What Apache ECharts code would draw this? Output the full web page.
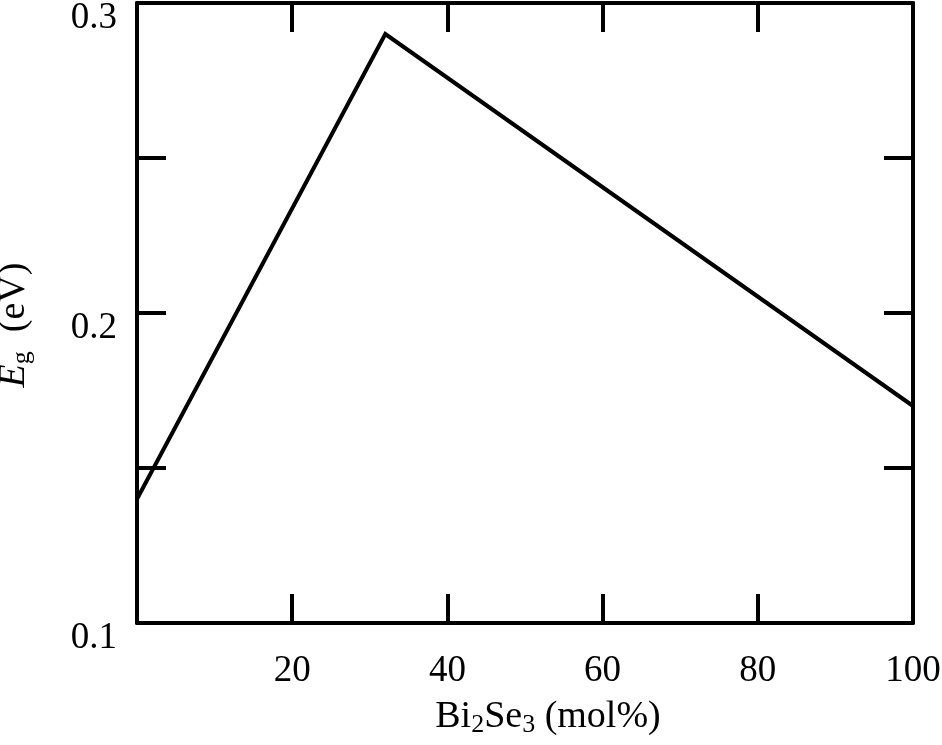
<!DOCTYPE html>
<html>
<head>
<meta charset="utf-8">
<script src="https://cdn.jsdelivr.net/npm/echarts@6/dist/echarts.min.js"></script>
<style>
html,body{margin:0;padding:0;background:#fff;}
#chart{width:942px;height:745px;}
</style>
</head>
<body>
<div id="chart"></div>
<script>
// Data
const compositions = [0, 32, 100];          // Bi2Se3 (mol%)
const bandGap = [0.14, 0.29, 0.17];         // Eg (eV)
const xTickValues = [20, 40, 60, 80, 100];
const yTickLabels = ['0.1', '0.2', '0.3'];

const FONT = 'Liberation Serif';
const seriesData = compositions.map((c, i) => [c, bandGap[i]]);

const chart = echarts.init(document.getElementById('chart'), null, {renderer: 'canvas'});

const axisLine = {show: true, onZero: false, lineStyle: {color: '#000', width: 4}};
const axisTick = {show: true, inside: true, length: 29, lineStyle: {color: '#000', width: 4}};

chart.setOption({
  animation: false,
  backgroundColor: '#fff',
  grid: {left: 137, right: 29, top: 3, bottom: 122, containLabel: false, outerBoundsMode: 'none'},
  xAxis: [
    {
      type: 'value', position: 'bottom', min: 0, max: 100, interval: 20,
      axisLine, axisTick, splitLine: {show: false},
      axisLabel: {
        show: true, margin: 30, color: '#000', fontFamily: FONT, fontSize: 37,
        showMinLabel: false,
        formatter: v => xTickValues.indexOf(v) >= 0 ? String(v) : ''
      },
      name: '{n|Bi}{s|2}{n|Se}{s|3}{n| (mol%)}',
      nameLocation: 'middle', nameGap: 73,
      nameTextStyle: {
        padding: [0, 0, 0, 46],
        rich: {
          n: {fontFamily: FONT, fontSize: 38, color: '#000', lineHeight: 42, verticalAlign: 'middle'},
          s: {fontFamily: FONT, fontSize: 26, color: '#000', lineHeight: 42, verticalAlign: 'bottom'}
        }
      }
    },
    {
      type: 'value', position: 'top', min: 0, max: 100, interval: 20,
      axisLine, axisTick, axisLabel: {show: false}, splitLine: {show: false}
    }
  ],
  yAxis: [
    {
      type: 'value', position: 'left', min: 0.1, max: 0.3, interval: 0.05,
      axisLine, axisTick, splitLine: {show: false},
      axisLabel: {
        show: true, margin: 20, color: '#000', fontFamily: FONT, fontSize: 37,
        verticalAlign: 'top', lineHeight: 30,
        formatter: v => {
          const r = Math.round(v * 10) / 10;
          const t = r.toFixed(1);
          return (Math.abs(v - r) < 1e-9 && yTickLabels.indexOf(t) >= 0) ? t : '';
        }
      },
      name: '{i|E}{s|g}{n|  (eV)}',
      nameLocation: 'middle', nameGap: 102, nameRotate: 90,
      nameTextStyle: {
        padding: [0, 24, 0, 0],
        rich: {
          i: {fontFamily: FONT, fontStyle: 'italic', fontSize: 38, color: '#000', lineHeight: 42, verticalAlign: 'middle'},
          s: {fontFamily: FONT, fontSize: 26, color: '#000', lineHeight: 42, verticalAlign: 'bottom'},
          n: {fontFamily: FONT, fontSize: 38, color: '#000', lineHeight: 42, verticalAlign: 'middle'}
        }
      }
    },
    {
      type: 'value', position: 'right', min: 0.1, max: 0.3, interval: 0.05,
      axisLine, axisTick, axisLabel: {show: false}, splitLine: {show: false}
    }
  ],
  series: [
    {
      type: 'line', xAxisIndex: 0, yAxisIndex: 0,
      data: seriesData, symbol: 'none', clip: false,
      lineStyle: {color: '#000', width: 4, join: 'miter'}
    }
  ]
});
</script>
</body>
</html>
